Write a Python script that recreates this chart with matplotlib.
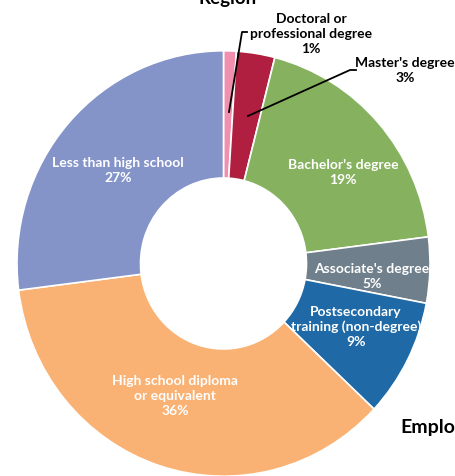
import matplotlib
matplotlib.use("Agg")
import matplotlib.pyplot as plt

categories = ["Doctoral or\nprofessional degree", "Master's degree", "Bachelor's degree",
              "Associate's degree", "Postsecondary\ntraining (non-degree)",
              "High school diploma\nor equivalent", "Less than high school"]
shares = [1, 3, 19, 5, 9, 36, 27]
colors = ["#F18FAE", "#B01F3F", "#86B25F", "#6F7F8B", "#1E69A6", "#F9B274", "#8494C9"]

# label anchor points (pixels, y measured from the top) and text colours
label_pos = [(311, 34), (405, 71), (343, 173), (372, 277), (356, 327), (175, 396), (118, 171)]
label_col = ["#000000", "#000000", "white", "white", "white", "white", "white"]

W, H = 455, 477
SY = 1.03  # slight vertical stretch of the ring

fig = plt.figure(figsize=(W / 100, H / 100), dpi=100)
ax = fig.add_axes([0, 0, 1, 1])


def px(x, y):
    """Pixel position (from top-left) to data coordinates."""
    return x, (H - y) / SY


cx, cy = px(223.5, 264.5)
R = 206.5
ax.pie(shares, colors=colors, startangle=90, counterclock=False,
       center=(cx, cy), radius=R, frame=True,
       wedgeprops=dict(width=R - 83, edgecolor="white", linewidth=1.2))
ax.set_xlim(0, W)
ax.set_ylim(0, H / SY)
ax.set_aspect("auto")
ax.axis("off")

font = "Lato"
for cat, val, (x, y), c in zip(categories, shares, label_pos, label_col):
    ax.text(*px(x, y), f"{cat}\n{val}%", ha="center", va="center", color=c,
            fontsize=10, fontweight="bold", family=font, linespacing=1.3)

# leader lines for the two thin slices
for pts in ([(247, 33), (242, 33), (229, 113)], [(356, 71), (350, 71), (248, 117)]):
    xs, ys = zip(*[px(x, y) for x, y in pts])
    ax.plot(xs, ys, color="black", lw=1.3)

ax.text(*px(228, 4), "Region", ha="center", va="baseline", fontsize=13.5,
        fontweight="bold", family=font)
ax.text(*px(400, 433), "Employment", ha="left", va="baseline", fontsize=14,
        fontweight="bold", family=font, clip_on=False)

fig.savefig("out.png", dpi=100)
